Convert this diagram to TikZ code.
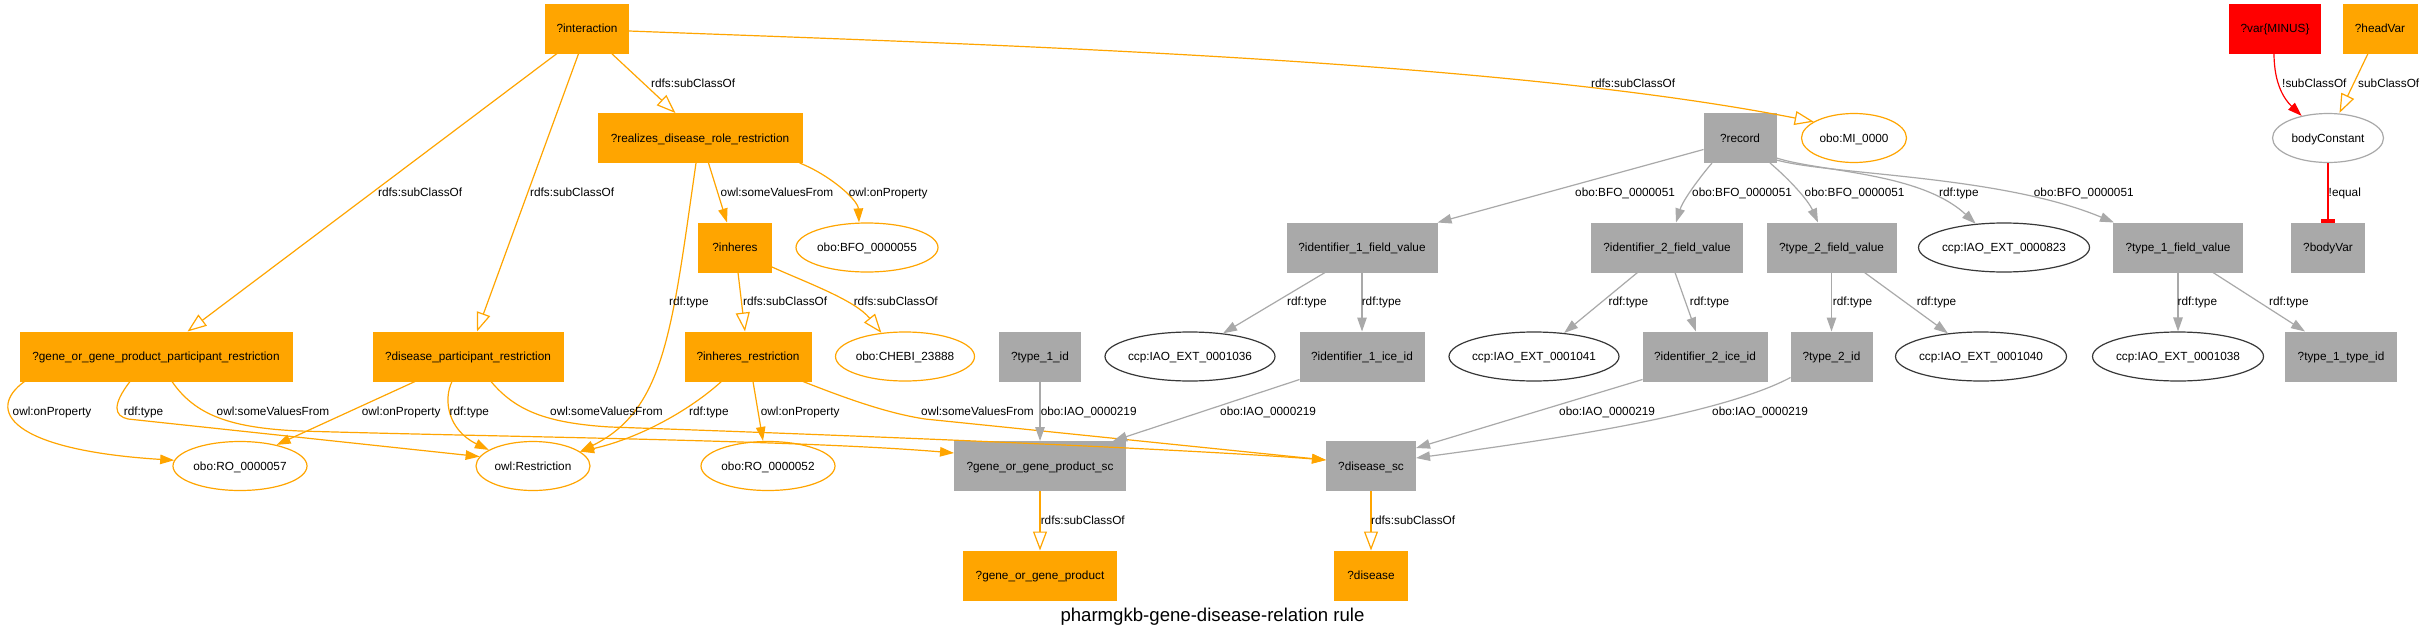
\documentclass[tikz,border=0pt]{standalone}
\usepackage{fontspec}
\setmainfont{Liberation Sans}
\usetikzlibrary{arrows.meta,shapes.geometric}
\definecolor{gvorange}{HTML}{FFA500}
\definecolor{gvgray}{HTML}{A9A9A9}
\definecolor{gvdark}{HTML}{383838}
\definecolor{gvred}{HTML}{FF0000}
\newcommand\mkz[1]{\makebox[0pt]{#1}}
\begin{document}
\begin{tikzpicture}[x=1pt,y=-1pt,
  every node/.style={font=\fontsize{11.8pt}{14pt}\selectfont, text height=8.6pt, text depth=0.6pt},
  box/.style={rectangle, minimum height=49pt, inner sep=0pt, line width=1pt},
  obox/.style={box, fill=gvorange, draw=gvorange},
  gbox/.style={box, fill=gvgray, draw=gvgray},
  rbox/.style={box, fill=gvred, draw=gvred},
  ell/.style={ellipse, minimum height=49pt, inner sep=0pt, line width=1.2pt, fill=white},
  oell/.style={ell, draw=gvorange},
  dell/.style={ell, draw=gvdark},
  lell/.style={ell, draw=gvgray},
  lbl/.style={anchor=base west, inner sep=0pt},
  oedge/.style={draw=gvorange, line width=1.2pt},
  gedge/.style={draw=gvgray, line width=1.2pt},
  redge/.style={draw=gvred, line width=1.2pt},
  opena/.style={-{Triangle[open, length=19pt, width=14pt]}},
  filla/.style={-{Triangle[length=14pt, width=9.5pt]}},
  teea/.style={-{Rectangle[length=4pt, width=14pt]}}
]
\fill[white] (0,0) rectangle (2425,637);
\useasboundingbox (0,0) rectangle (2425,637);

% row 1
\node[obox, minimum width=83pt] (inter) at (587,28.5) {?interaction};
\node[rbox, minimum width=91pt] (varm) at (2275,28.5) {?var\{MINUS\}};
\node[obox, minimum width=74pt] (headv) at (2380,28.5) {?headVar};
% row 2
\node[obox, minimum width=204pt] (realizes) at (700,138) {?realizes\_disease\_role\_restriction};
\node[gbox, minimum width=72pt] (record) at (1740,138) {?record};
\node[oell, minimum width=105pt] (mi) at (1854,138) {\mkz{obo:MI\_0000}};
\node[lell, minimum width=111pt] (bodyc) at (2328,138) {\mkz{bodyConstant}};
% row 3
\node[obox, minimum width=73pt] (inheres) at (735,247.5) {?inheres};
\node[oell, minimum width=142pt] (bfo55) at (867,247.5) {\mkz{obo:BFO\_0000055}};
\node[gbox, minimum width=150pt] (id1fv) at (1362,247.5) {?identifier\_1\_field\_value};
\node[gbox, minimum width=151pt] (id2fv) at (1667,247.5) {?identifier\_2\_field\_value};
\node[gbox, minimum width=129pt] (t2fv) at (1831.5,247.5) {?type\_2\_field\_value};
\node[dell, minimum width=171pt] (e823) at (2004,247.5) {\mkz{ccp:IAO\_EXT\_0000823}};
\node[gbox, minimum width=129pt] (t1fv) at (2178,247.5) {?type\_1\_field\_value};
\node[gbox, minimum width=73pt] (bodyvar) at (2328,247.5) {?bodyVar};
% row 4
\node[obox, minimum width=272pt] (gpr) at (156,356.5) {?gene\_or\_gene\_product\_participant\_restriction};
\node[obox, minimum width=190pt] (dpr) at (468,356.5) {?disease\_participant\_restriction};
\node[obox, minimum width=126pt] (ihr) at (748,356.5) {?inheres\_restriction};
\node[oell, minimum width=139pt] (chebi) at (905,356.5) {\mkz{obo:CHEBI\_23888}};
\node[gbox, minimum width=81pt] (t1id) at (1040,356.5) {?type\_1\_id};
\node[dell, minimum width=170pt] (e1036) at (1190,356.5) {\mkz{ccp:IAO\_EXT\_0001036}};
\node[gbox, minimum width=124pt] (id1ice) at (1362,356.5) {?identifier\_1\_ice\_id};
\node[dell, minimum width=170pt] (e1041) at (1534,356.5) {\mkz{ccp:IAO\_EXT\_0001041}};
\node[gbox, minimum width=124pt] (id2ice) at (1705,356.5) {?identifier\_2\_ice\_id};
\node[gbox, minimum width=81pt] (t2id) at (1831.5,356.5) {?type\_2\_id};
\node[dell, minimum width=171pt] (e1040) at (1981,356.5) {\mkz{ccp:IAO\_EXT\_0001040}};
\node[dell, minimum width=171pt] (e1038) at (2178,356.5) {\mkz{ccp:IAO\_EXT\_0001038}};
\node[gbox, minimum width=111pt] (t1tid) at (2341,356.5) {?type\_1\_type\_id};
% row 5
\node[oell, minimum width=134pt] (ro57) at (240,466) {\mkz{obo:RO\_0000057}};
\node[oell, minimum width=114pt] (owlr) at (533,466) {\mkz{owl:Restriction}};
\node[oell, minimum width=134pt] (ro52) at (768,466) {\mkz{obo:RO\_0000052}};
\node[gbox, minimum width=171pt] (ggpsc) at (1040,466) {?gene\_or\_gene\_product\_sc};
\node[gbox, minimum width=89pt] (dsc) at (1371,466) {?disease\_sc};
% row 6
\node[obox, minimum width=153pt] (ggp) at (1040,575.5) {?gene\_or\_gene\_product};
\node[obox, minimum width=73pt] (dis) at (1371,575.5) {?disease};
% title
\node[anchor=base, font=\fontsize{18.6pt}{22pt}\selectfont] (title) at (1212.5,621.5) {pharmgkb-gene-disease-relation rule};

% orange edges
\draw[oedge, opena] ([xshift=-30pt]inter.south) -- ([xshift=31.5pt]gpr.north);
\draw[oedge, opena] ([xshift=-8.4pt]inter.south) -- ([xshift=9pt]dpr.north);
\draw[oedge, opena] ([xshift=24.6pt]inter.south) -- ([xshift=-24.6pt]realizes.north);
\draw[oedge, opena] ([yshift=-2.5pt]inter.east) .. controls (1000,45) and (1500,60) .. (mi.158);
\draw[oedge, filla] ([xshift=8.5pt]realizes.south) -- ([xshift=-8pt]inheres.north);
\draw[oedge, filla] ([xshift=99.6pt]realizes.south) .. controls (830,175) and (858,200) .. ([xshift=-8pt]bfo55.north);
\draw[oedge, filla] ([xshift=-4pt]realizes.south) .. controls (672,330) and (665,410) .. (owlr.17);
\draw[oedge, opena] ([xshift=3pt]inheres.south) -- ([xshift=-3pt]ihr.north);
\draw[oedge, opena] ([yshift=-19.5pt]inheres.east) .. controls (805,282) and (855,300) .. (chebi.135);
\draw[oedge, filla] ([xshift=-131.5pt]gpr.south) .. controls (-15,410) and (10,450) .. (ro57.175);
\draw[oedge, filla] ([xshift=-26pt]gpr.south) .. controls (112,405) and (114,416) .. (128,419) -- (owlr.170);
\draw[oedge, filla] ([xshift=16pt]gpr.south) .. controls (195,415) and (230,428) .. (300,431) .. controls (500,437) and (800,440) .. ([yshift=13pt]ggpsc.west);
\draw[oedge, filla] ([xshift=-53pt]dpr.south) -- (ro57.30);
\draw[oedge, filla] ([xshift=-16pt]dpr.south) .. controls (443,400) and (448,430) .. (owlr.160);
\draw[oedge, filla] ([xshift=23pt]dpr.south) .. controls (515,410) and (545,423) .. (610,427) .. controls (900,437) and (1200,450) .. ([yshift=6pt]dsc.west);
\draw[oedge, filla] ([xshift=-26.6pt]ihr.south) .. controls (690,410) and (640,438) .. (owlr.17);
\draw[oedge, filla] ([xshift=5pt]ihr.south) -- ([xshift=-5pt]ro52.north);
\draw[oedge, filla] ([xshift=55pt]ihr.south) .. controls (840,396) and (885,413) .. (925,419) -- ([yshift=6pt]dsc.west);
\draw[oedge, opena] (ggpsc.south) -- (ggp.north);
\draw[oedge, opena] (dsc.south) -- (dis.north);

% gray edges
\draw[gedge, filla] ([yshift=-11.5pt]record.west) -- (id1fv.north east);
\draw[gedge, filla] ([xshift=-28pt]record.south) .. controls (1700,177) and (1683,200) .. ([xshift=9pt]id2fv.north);
\draw[gedge, filla] ([xshift=30pt]record.south) .. controls (1790,180) and (1808,200) .. ([xshift=-13.5pt]t2fv.north);
\draw[gedge, filla] ([yshift=-20pt]record.east) .. controls (1820,172) and (1920,172) .. (e823.140);
\draw[gedge, filla] ([yshift=-22pt]record.east) .. controls (1830,175) and (2000,175) .. ([xshift=1pt]t1fv.north west);
\draw[gedge, filla] ([xshift=-37pt]id1fv.south) -- (e1036.35);
\draw[gedge, filla] (id1fv.south) -- (id1ice.north);
\draw[gedge, filla] ([xshift=-29.5pt]id2fv.south) -- (e1041.38);
\draw[gedge, filla] ([xshift=8pt]id2fv.south) -- ([xshift=-9pt]id2ice.north);
\draw[gedge, filla] (t2fv.south) -- (t2id.north);
\draw[gedge, filla] ([xshift=33pt]t2fv.south) -- (e1040.145);
\draw[gedge, filla] (t1fv.south) -- (e1038.north);
\draw[gedge, filla] ([xshift=35pt]t1fv.south) -- ([xshift=-36pt]t1tid.north);
\draw[gedge, filla] (t1id.south) -- (ggpsc.north);
\draw[gedge, filla] ([yshift=2pt]id1ice.south west) -- ([xshift=73pt]ggpsc.north);
\draw[gedge, filla] ([yshift=2pt]id2ice.south west) -- ([yshift=18pt]dsc.east);
\draw[gedge, filla] ([yshift=4pt]t2id.south west) .. controls (1720,415) and (1550,440) .. ([yshift=8pt]dsc.east);

% rule edges
\draw[redge, filla] ([xshift=-1pt]varm.south) .. controls (2274,85) and (2285,100) .. (bodyc.140);
\draw[oedge, opena] ([xshift=-12pt]headv.south) -- ([xshift=11.5pt]bodyc.north);
\draw[redge, teea] (bodyc.south) -- (bodyvar.north);

% edge labels
\node[lbl] (l1) at (378,196.5) {rdfs:subClassOf};
\node[lbl] (l2) at (530,196.5) {rdfs:subClassOf};
\node[lbl] (l3) at (651,87.5) {rdfs:subClassOf};
\node[lbl] (l4) at (1591,87.5) {rdfs:subClassOf};
\node[lbl] (l5) at (720.5,196.5) {owl:someValuesFrom};
\node[lbl] (l6) at (848.6,196.5) {owl:onProperty};
\node[lbl] (l7) at (669,305.5) {rdf:type};
\node[lbl] (l8) at (743,305.5) {rdfs:subClassOf};
\node[lbl] (l9) at (853.6,305.5) {rdfs:subClassOf};
\node[lbl] (l10) at (12.5,415.5) {owl:onProperty};
\node[lbl] (l11) at (123.7,415.5) {rdf:type};
\node[lbl] (l12) at (216.5,415.5) {owl:someValuesFrom};
\node[lbl] (l13) at (361.6,415.5) {owl:onProperty};
\node[lbl] (l14) at (449.5,415.5) {rdf:type};
\node[lbl] (l15) at (550,415.5) {owl:someValuesFrom};
\node[lbl] (l16) at (689,415.5) {rdf:type};
\node[lbl] (l17) at (760.7,415.5) {owl:onProperty};
\node[lbl] (l18) at (921,415.5) {owl:someValuesFrom};
\node[lbl] (l19) at (1040.6,524.5) {rdfs:subClassOf};
\node[lbl] (l20) at (1371,524.5) {rdfs:subClassOf};
\node[lbl] (l21) at (1575,196.5) {obo:BFO\_0000051};
\node[lbl] (l22) at (1692,196.5) {obo:BFO\_0000051};
\node[lbl] (l23) at (1804.5,196.5) {obo:BFO\_0000051};
\node[lbl] (l24) at (1939,196.5) {rdf:type};
\node[lbl] (l25) at (2033.7,196.5) {obo:BFO\_0000051};
\node[lbl] (l26) at (1287,305.5) {rdf:type};
\node[lbl] (l27) at (1361.6,305.5) {rdf:type};
\node[lbl] (l28) at (1608.5,305.5) {rdf:type};
\node[lbl] (l29) at (1689.7,305.5) {rdf:type};
\node[lbl] (l30) at (1832.6,305.5) {rdf:type};
\node[lbl] (l31) at (1916.7,305.5) {rdf:type};
\node[lbl] (l32) at (2177.5,305.5) {rdf:type};
\node[lbl] (l33) at (2269,305.5) {rdf:type};
\node[lbl] (l34) at (1040.6,415.5) {obo:IAO\_0000219};
\node[lbl] (l35) at (1220,415.5) {obo:IAO\_0000219};
\node[lbl] (l36) at (1559,415.5) {obo:IAO\_0000219};
\node[lbl] (l37) at (1712,415.5) {obo:IAO\_0000219};
\node[lbl] (l38) at (2282,87.5) {!subClassOf};
\node[lbl] (l39) at (2358,87.5) {subClassOf};
\node[lbl] (l40) at (2328.5,196.5) {!equal};
\end{tikzpicture}
\end{document}
